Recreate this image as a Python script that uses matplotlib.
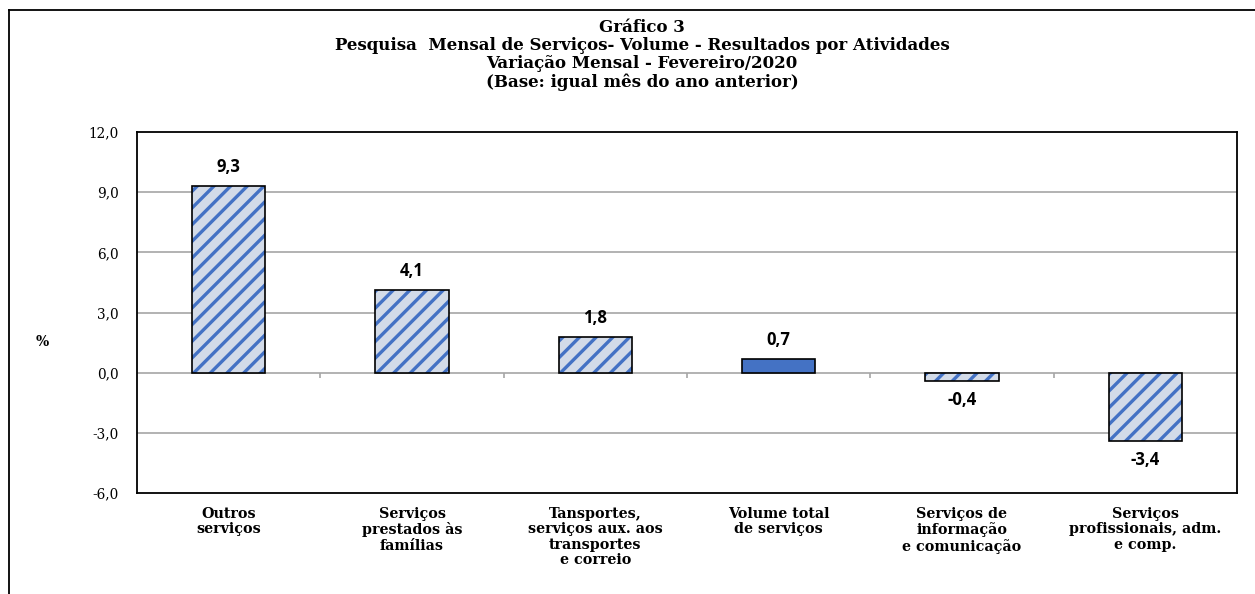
import numpy as np
import matplotlib
matplotlib.use("Agg")
from matplotlib import pyplot as plt
from matplotlib.lines import Line2D

# data ###################################################
categories = [
    "Outros\nserviços",
    "Serviços\nprestados às\nfamílias",
    "Tansportes,\nserviços aux. aos\ntransportes\ne correio",
    "Volume total\nde serviços",
    "Serviços de\ninformação\ne comunicação",
    "Serviços\nprofissionais, adm.\ne comp.",
]
values = [9.3, 4.1, 1.8, 0.7, -0.4, -3.4]
solid = [False, False, False, True, False, False]
yticks = [-6, -3, 0, 3, 6, 9, 12]
title_lines = [
    "Gráfico 3",
    "Pesquisa  Mensal de Serviços- Volume - Resultados por Atividades",
    "Variação Mensal - Fevereiro/2020",
    "(Base: igual mês do ano anterior)",
]

BLUE = "#4472C4"
LIGHT = "#D3DBE8"
GRID = "#A6A6A6"
SERIF = "DejaVu Serif"
SANS = "Open Sans"

plt.rcParams["hatch.linewidth"] = 2.4

W, H = 1255, 594
fig = plt.figure(figsize=(W / 100, H / 100), dpi=100)
ax = fig.add_axes([137 / W, 1 - 493 / H, 1100 / W, 361 / H])

x = np.arange(len(values))

# bars: hatched fill, then black outline
for xi, v, s in zip(x, values, solid):
    if s:
        ax.bar(xi, v, width=0.4, color=BLUE, edgecolor="black", linewidth=1.2, zorder=3)
    else:
        ax.bar(xi, v, width=0.4, color=LIGHT, edgecolor=BLUE, linewidth=0,
               hatch="//", zorder=3)
        ax.bar(xi, v, width=0.4, fill=False, edgecolor="black", linewidth=1.2, zorder=4)
    off = 0.5 if v >= 0 else -0.5
    ax.text(xi, v + off, f"{v:.1f}".replace(".", ","), ha="center",
            va="bottom" if v >= 0 else "top", fontsize=12, fontweight="bold",
            family=SANS, zorder=5)

ax.set_xlim(-0.5, len(values) - 0.5)
ax.set_ylim(-6, 12)
ax.set_yticks(yticks)
ax.set_yticklabels([f"{t:.1f}".replace(".", ",") for t in yticks],
                   family=SERIF, fontsize=9.8)
ax.tick_params(axis="y", length=0, pad=13)
ax.set_xticks([])
for t in yticks[1:-1]:
    ax.axhline(t, color=GRID, linewidth=1.2, zorder=1)

# small ticks on the zero line between categories
ax.vlines(x[:-1] + 0.5, -0.28, 0, color=GRID, linewidth=1.2, zorder=1)

for sp in ax.spines.values():
    sp.set_color("black")
    sp.set_linewidth(1.3)

for xi, lab in zip(x, categories):
    ax.annotate(lab, (xi, -6), xytext=(0, -10), textcoords="offset points",
                ha="center", va="top", family=SERIF, fontweight="bold",
                fontsize=10.3, linespacing=1.12)

fig.text(42 / W, 1 - 342 / H, "%", ha="center", va="center",
         fontweight="bold", family=SERIF, fontsize=10)

for i, line in enumerate(title_lines):
    fig.text(642 / W, 1 - (27 + 18.5 * i) / H, line, ha="center", va="center",
             fontweight="bold", family=SERIF, fontsize=12)

# outer chart frame
fig.add_artist(Line2D([9 / W, 9 / W], [0, 1 - 10 / H], color="black", linewidth=1.3))
fig.add_artist(Line2D([9 / W, 1], [1 - 10 / H, 1 - 10 / H], color="black", linewidth=1.3))

fig.savefig("out.png", dpi=100)
